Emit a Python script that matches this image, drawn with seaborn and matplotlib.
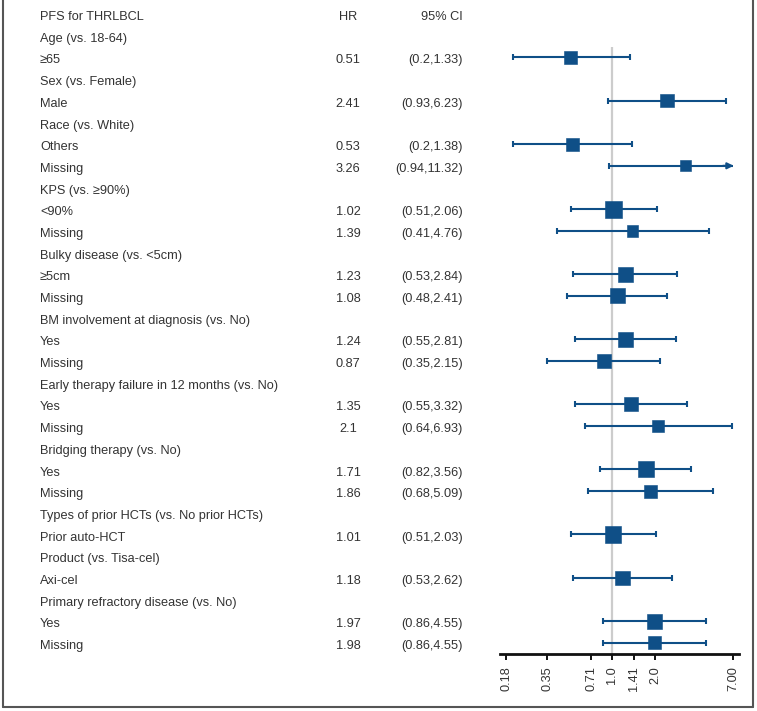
import numpy as np
import pandas as pd
import seaborn as sns
import matplotlib.pyplot as plt
import matplotlib.transforms as mtransforms
from matplotlib.lines import Line2D
from matplotlib.ticker import FixedLocator, FixedFormatter, NullLocator

title = "PFS for THRLBCL"
groups = ["Age (vs. 18-64)", "Sex (vs. Female)", "Race (vs. White)", "KPS (vs. \u226590%)",
          "Bulky disease (vs. <5cm)", "BM involvement at diagnosis (vs. No)",
          "Early therapy failure in 12 months (vs. No)", "Bridging therapy (vs. No)",
          "Types of prior HCTs (vs. No prior HCTs)", "Product (vs. Tisa-cel)",
          "Primary refractory disease (vs. No)"]
levels = [["\u226565"], ["Male"], ["Others", "Missing"], ["<90%", "Missing"],
          ["\u22655cm", "Missing"], ["Yes", "Missing"], ["Yes", "Missing"],
          ["Yes", "Missing"], ["Prior auto-HCT"], ["Axi-cel"], ["Yes", "Missing"]]
hr = [0.51, 2.41, 0.53, 3.26, 1.02, 1.39, 1.23, 1.08, 1.24, 0.87, 1.35, 2.1,
      1.71, 1.86, 1.01, 1.18, 1.97, 1.98]
ci_lo = [0.2, 0.93, 0.2, 0.94, 0.51, 0.41, 0.53, 0.48, 0.55, 0.35, 0.55, 0.64,
         0.82, 0.68, 0.51, 0.53, 0.86, 0.86]
ci_hi = [1.33, 6.23, 1.38, 11.32, 2.06, 4.76, 2.84, 2.41, 2.81, 2.15, 3.32, 6.93,
         3.56, 5.09, 2.03, 2.62, 4.55, 4.55]
# relative box weight (box side)
weight = [13.3, 13.3, 13.0, 11.3, 16.7, 11.3, 14.7, 15.0, 15.0, 13.7, 14.0, 11.7,
          16.0, 13.0, 16.7, 14.7, 14.7, 13.0]
tick_vals = [0.18, 0.35, 0.71, 1.0, 1.41, 2.0, 7.00]
tick_labels = ["0.18", "0.35", "0.71", "1.0", "1.41", "2.0", "7.00"]

# build row table
rows = []
for g, lv in zip(groups, levels):
    rows.append(("header", g))
    for l in lv:
        rows.append(("level", l))
est = pd.DataFrame({"label": [r[1] for r in rows if r[0] == "level"],
                    "row": [i + 1 for i, r in enumerate(rows) if r[0] == "level"],
                    "hr": hr, "lo": ci_lo, "hi": ci_hi, "w": weight})
est["area"] = (est["w"] * 0.72) ** 2
nrows = len(rows) + 1

sns.set_style("white")
plt.rcParams["font.family"] = ["Liberation Sans", "DejaVu Sans"]

color = "#0f4f87"
txt = "#333333"
W, H = 757, 711
fig = plt.figure(figsize=(W / 100, H / 100), dpi=100)
ax = fig.add_axes([500 / W, 1 - 654 / H, 239 / W, 654 / H])
ax.set_xscale("log")
ax.set_xlim(0.1634, 7.71)
ax.set_ylim(nrows - 1 + 0.51, -0.645)

xmax = tick_vals[-1]
ax.vlines(1.0, 1.5, nrows - 1 + 0.51, color="#cccccc", lw=1.6, zorder=1)

hi_draw = est["hi"].clip(upper=xmax)
ax.hlines(est["row"], est["lo"], hi_draw, color=color, lw=1.5, zorder=2)
ax.plot(est["lo"], est["row"], ls="none", marker="|", ms=4, mew=1.5, color=color, zorder=2)
capped = est[est["hi"] <= xmax]
ax.plot(capped["hi"], capped["row"], ls="none", marker="|", ms=4, mew=1.5, color=color, zorder=2)
for _, r in est[est["hi"] > xmax].iterrows():
    ax.annotate("", xy=(xmax * 1.01, r["row"]), xytext=(xmax * 0.85, r["row"]),
                arrowprops=dict(arrowstyle="-|>", color=color, lw=1.5,
                                mutation_scale=9, shrinkA=0, shrinkB=0))

sns.scatterplot(data=est, x="hr", y="row", size="area",
                sizes=(est["area"].min(), est["area"].max()),
                marker="s", color=color, edgecolor=color, linewidth=0.4,
                legend=False, ax=ax, zorder=3)

# text columns
tr = mtransforms.blended_transform_factory(fig.transFigure, ax.transData)
fs = 9.2
dy = 0.28
ax.text(40 / W, dy, title, transform=tr, ha="left", va="baseline", fontsize=fs, color=txt)
ax.text(348 / W, dy, "HR", transform=tr, ha="center", va="baseline", fontsize=fs, color=txt)
ax.text(463 / W, dy, "95% CI", transform=tr, ha="right", va="baseline", fontsize=fs, color=txt)
for i, (kind, lab) in enumerate(rows):
    ax.text(40 / W, i + 1 + dy, lab, transform=tr, ha="left", va="baseline", fontsize=fs, color=txt)
for _, r in est.iterrows():
    ax.text(348 / W, r["row"] + dy, str(r["hr"]), transform=tr, ha="center", va="baseline",
            fontsize=fs, color=txt)
    ax.text(463 / W, r["row"] + dy, "(%s,%s)" % (r["lo"], r["hi"]), transform=tr,
            ha="right", va="baseline", fontsize=fs, color=txt)

# axis styling
for s in ["top", "right", "left"]:
    ax.spines[s].set_visible(False)
ax.spines["bottom"].set_linewidth(2.0)
ax.spines["bottom"].set_color("#111111")
ax.xaxis.set_major_locator(FixedLocator(tick_vals))
ax.xaxis.set_major_formatter(FixedFormatter(tick_labels))
ax.xaxis.set_minor_locator(NullLocator())
ax.tick_params(axis="x", which="major", bottom=True, length=4, width=1.4,
               color="#111111", labelsize=9.2, labelcolor=txt, pad=5, labelrotation=90)
ax.set_yticks([])
ax.set_xlabel("")
ax.set_ylabel("")
ax.patch.set_alpha(0)

# outer frame (left, right, bottom)
fc = "#555555"
yb = 1 - 707 / H
fig.add_artist(Line2D([2.5 / W, 2.5 / W], [yb, 1], color=fc, lw=1.5, transform=fig.transFigure))
fig.add_artist(Line2D([752.5 / W, 752.5 / W], [yb, 1], color=fc, lw=1.5, transform=fig.transFigure))
fig.add_artist(Line2D([2.5 / W, 752.5 / W], [yb, yb], color=fc, lw=1.5, transform=fig.transFigure))

fig.savefig("out.png", dpi=100)
